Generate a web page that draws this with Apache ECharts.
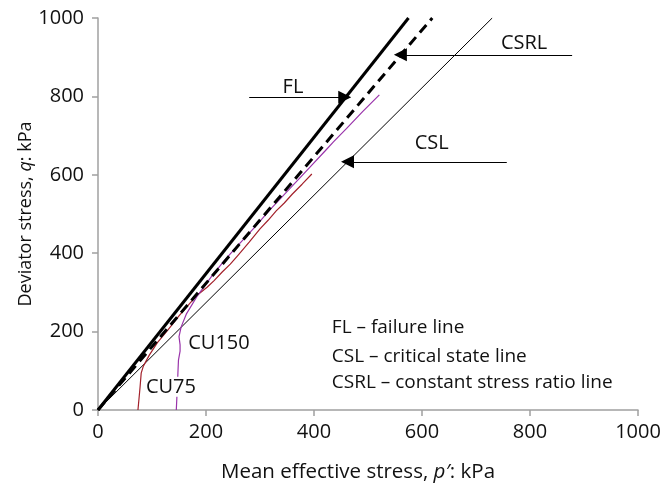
<!DOCTYPE html>
<html>
<head>
<meta charset="utf-8">
<script src="https://cdn.jsdelivr.net/npm/echarts@6/dist/echarts.min.js"></script>
<style>html,body{margin:0;padding:0;background:#fff;}#c{width:671px;height:493px;}</style>
</head>
<body>
<div id="c"></div>
<script>
// Reference lines (p', q) in kPa
var flLine = [[0, 0], [575, 1000]];
var csrlLine = [[0, 0], [619, 1000]];
var cslLine = [[0, 0], [730, 1000]];
// Test paths
var cu75 = [[74,0],[76,30],[78,60],[80,94],[84,112],[95,140],[110,172],[130,205],[150,240],[170,272],[183,292],[202,313],[215,330],[230,352],[245,372],[260,396],[280,428],[300,462],[315,484],[330,508],[345,528],[360,551],[378,576],[396,602]];
var cu150 = [[145,0],[146,30],[147,59],[148,95],[149,127],[152,150],[152,166],[150,187],[154,212],[164,246],[183,289],[210,340],[235,383],[260,421],[290,466],[320,513],[350,557],[393,620],[420,660],[436,684],[460,718],[490,761],[521,804]];
// Annotation arrows [from, to]
var flArrow = [[280, 798], [457, 798]];
var csrlArrow = [[878, 906], [560, 906]];
var cslArrow = [[757, 633], [462, 633]];
// Labels
var lineLabels = [["FL", 361, 824], ["CSRL", 789, 936], ["CSL", 618, 681], ["CU150", 224, 171]];
var cu75Label = ["CU75", 135, 59];
var keyLines = [["FL \u2013 failure line", 433, 209], ["CSL \u2013 critical state line", 433, 135], ["CSRL \u2013 constant stress ratio line", 433, 69]];
var xTicks = [0, 200, 400, 600, 800, 1000];
var yTicks = [0, 200, 400, 600, 800, 1000];

var FONT = '"Open Sans", sans-serif';
var TXT = '#111';
var chart = echarts.init(document.getElementById('c'), null, {renderer: 'canvas'});
var axisCol = '#a0a0a0';
function plain(v) { return String(v); }
chart.setOption({
  animation: false,
  backgroundColor: '#fff',
  grid: {left: 98, right: 33, top: 18, bottom: 83},
  xAxis: {
    type: 'value', min: xTicks[0], max: xTicks[xTicks.length - 1], interval: 200,
    axisLine: {show: true, lineStyle: {color: axisCol, width: 1.5}},
    axisTick: {show: true, length: 6, lineStyle: {color: axisCol, width: 1.5}},
    splitLine: {show: false},
    axisLabel: {fontFamily: FONT, fontSize: 20, color: TXT, margin: 12, formatter: plain},
    name: '{n|Mean effective stress, }{i|p\u2032}{n|: kPa}',
    nameLocation: 'middle', nameGap: 52, nameMoveOverlap: false,
    nameTextStyle: {padding: [0, 20, 0, 0], rich: {n: {fontFamily: FONT, fontSize: 20.5, color: TXT}, i: {fontFamily: FONT, fontSize: 20.5, fontStyle: 'italic', color: TXT}}}
  },
  yAxis: {
    type: 'value', min: yTicks[0], max: yTicks[yTicks.length - 1], interval: 200,
    axisLine: {show: true, lineStyle: {color: axisCol, width: 1.5}},
    axisTick: {show: true, length: 6, lineStyle: {color: axisCol, width: 1.5}},
    splitLine: {show: false},
    axisLabel: {fontFamily: FONT, fontSize: 20, color: TXT, margin: 14, formatter: plain},
    name: '{n|Deviator stress, }{i|q}{n|: kPa}',
    nameLocation: 'middle', nameGap: 63, nameMoveOverlap: false,
    nameTextStyle: {rich: {n: {fontFamily: FONT, fontSize: 18, color: TXT}, i: {fontFamily: FONT, fontSize: 18, fontStyle: 'italic', color: TXT}}}
  },
  series: [
    {type: 'line', data: cslLine, showSymbol: false, lineStyle: {color: '#000', width: 1}, z: 3},
    {type: 'line', data: cu75, showSymbol: false, lineStyle: {color: '#a3212b', width: 1.2}, z: 4},
    {type: 'line', data: cu150, showSymbol: false, lineStyle: {color: '#9933aa', width: 1.2}, z: 4},
    {type: 'line', data: csrlLine, showSymbol: false, lineStyle: {color: '#000', width: 3, type: [10, 6]}, z: 5},
    {type: 'line', data: flLine, showSymbol: false, lineStyle: {color: '#000', width: 3}, z: 5},
    {type: 'lines', coordinateSystem: 'cartesian2d', polyline: false,
      symbol: ['none', 'triangle'], symbolSize: [11, 13],
      lineStyle: {color: '#000', width: 1.2, opacity: 1},
      data: [{coords: flArrow}, {coords: csrlArrow}, {coords: cslArrow}], z: 6},
    {type: 'scatter', symbolSize: 0, z: 7, itemStyle: {opacity: 1},
      data: lineLabels.map(function (d) { return {value: [d[1], d[2]], name: d[0]}; }),
      label: {show: true, position: 'inside', formatter: '{b}', fontFamily: FONT, fontSize: 20, color: TXT}},
    {type: 'scatter', symbolSize: 0, z: 7, itemStyle: {opacity: 1},
      data: [{value: [cu75Label[1], cu75Label[2]], name: cu75Label[0]}],
      label: {show: true, position: 'inside', formatter: '{b}', fontFamily: FONT, fontSize: 20, color: TXT, backgroundColor: '#fff', padding: [0, 2]}},
    {type: 'scatter', symbolSize: 0, z: 7, itemStyle: {opacity: 1},
      data: keyLines.map(function (d) { return {value: [d[1], d[2]], name: d[0]}; }),
      label: {show: true, position: 'right', distance: 0, formatter: '{b}', fontFamily: FONT, fontSize: 19, color: TXT}}
  ]
});
</script>
</body>
</html>
